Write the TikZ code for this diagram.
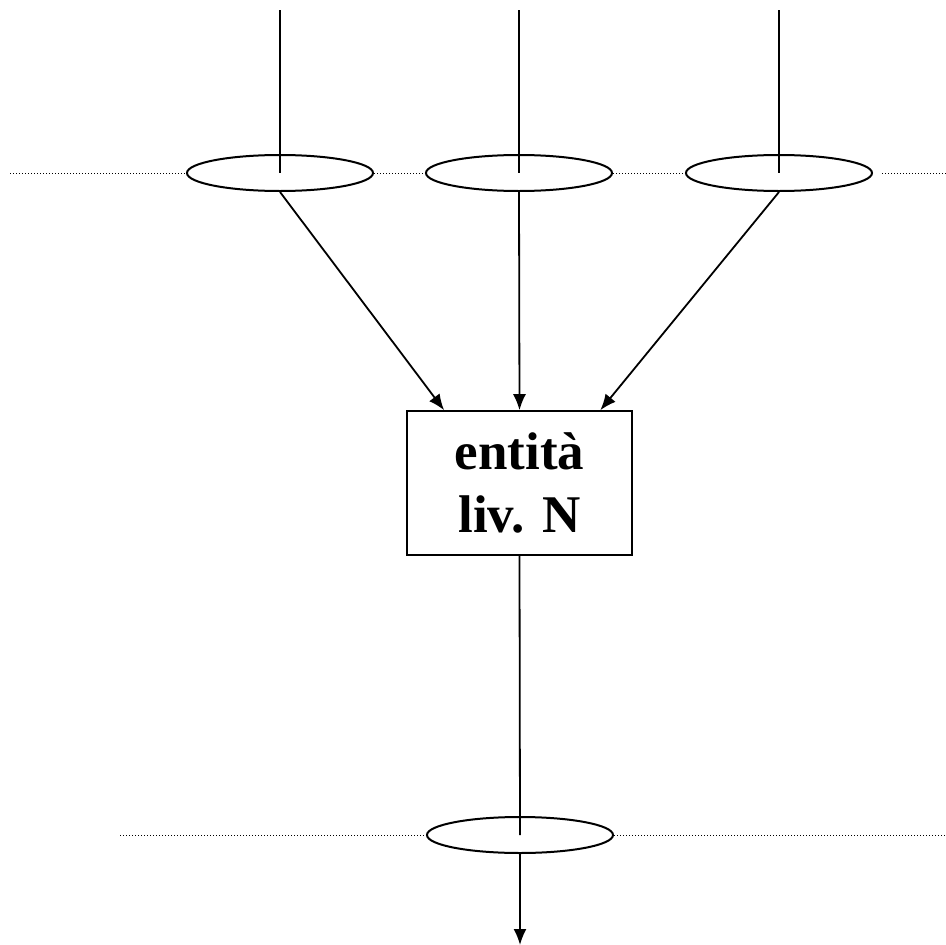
\documentclass[tikz,border=0pt]{standalone}
\usepackage{fontspec}
\setmainfont{Liberation Serif}
\usetikzlibrary{shapes.geometric,arrows.meta}

\tikzstyle{ring}=[draw, ellipse, line width=2pt, minimum width=186pt, minimum height=36pt, inner sep=0pt]
\tikzstyle{entity}=[draw, line width=1.6pt, minimum width=225pt, minimum height=144pt, align=center, font=\fontsize{53}{63}\selectfont\bfseries]
\tikzstyle{wire}=[line width=1.8pt]
\tikzstyle{arrow}=[line width=1.8pt, -{Latex[length=16pt,width=13pt]}]
\tikzstyle{level}=[line width=1pt, dash pattern=on 1pt off 2pt]

\begin{document}
\begin{tikzpicture}[x=1pt, y=-1pt]
      \useasboundingbox (0,0) rectangle (946,945);

      \node[ring] (e1) at (280, 173) {};
      \node[ring] (e2) at (519, 173) {};
      \node[ring] (e3) at (779, 173) {};
      \node[ring] (e4) at (520, 835) {};
      \node[entity] (ent) at (519.5, 483) {entità\\liv. N};

      \coordinate (t1) at (280, 10);
      \coordinate (t2) at (519, 10);
      \coordinate (t3) at (779, 10);
      \coordinate (out) at (520, 945);
      \coordinate (la) at (10, 173);
      \coordinate (ra) at (882, 173);
      \coordinate (rb) at (946, 173);
      \coordinate (lb) at (120, 835);
      \coordinate (rc) at (946, 835);

      \draw[level] (la) -- (e1.west);
      \draw[level] (e1.east) -- (e2.west);
      \draw[level] (e2.east) -- (e3.west);
      \draw[level] (ra) -- (rb);
      \draw[level] (lb) -- (e4.west);
      \draw[level] (e4.east) -- (rc);

      \draw[wire] (t1) -- (e1.center);
      \draw[wire] (t2) -- (e2.center);
      \draw[wire] (t3) -- (e3.center);

      \draw[arrow] (e1.south) -- (ent.136);
      \draw[arrow] (e2.south) -- (ent.north);
      \draw[arrow] (e3.south) -- (ent.42);

      \draw[wire] (ent.south) -- (e4.center);
      \draw[arrow] (e4.south) -- (out);
\end{tikzpicture}
\end{document}
